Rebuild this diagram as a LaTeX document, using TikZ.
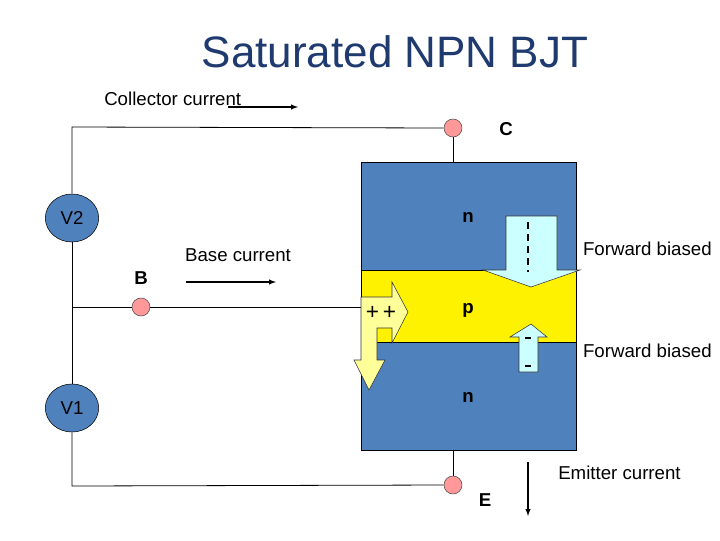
\documentclass[tikz,border=0pt]{standalone}
\usepackage{fontspec}
\setmainfont{Liberation Sans}
\usetikzlibrary{shapes.geometric}
\begin{document}
\begin{tikzpicture}[x=0.75pt,y=-0.75pt,
  wire/.style={draw=black,line width=0.6pt},
  term/.style={circle,draw=black!70,fill=red!40,minimum size=13.5pt,inner sep=0pt,line width=0.4pt},
  src/.style={ellipse,draw=black,fill=blockblue,minimum width=40pt,minimum height=36pt,inner sep=0pt,font=\fontsize{14}{16}\selectfont},
  lbl/.style={font=\fontsize{14}{16}\selectfont,inner sep=0pt},
  blbl/.style={font=\bfseries\fontsize{14}{16}\selectfont,inner sep=0pt},
  arr/.style={-latex,line width=0.8pt}]
\definecolor{blockblue}{HTML}{4F81BD}
\definecolor{titleblue}{HTML}{1F3A6E}
\definecolor{lcyan}{HTML}{CCFFFF}
\definecolor{lyel}{HTML}{FFFF99}
\useasboundingbox (0,0) rectangle (720,540);
% title
\node[font=\fontsize{33}{38}\selectfont,text=titleblue] (title) at (395,52) {Saturated NPN BJT};
% block
\fill[blockblue,draw=black] (361,162) rectangle (576,450);
\fill[yellow,draw=black] (361,270) rectangle (576,342);
\coordinate (btop) at (453,162);
\coordinate (bbot) at (453,450);
\coordinate (bleft) at (361,307);
% terminals and sources
\node[term] (C) at (453,128) {};
\node[term] (B) at (141,307) {};
\node[term] (E) at (453,485) {};
\node[src] (V2) at (72,218) {V2};
\node[src] (V1) at (72,408) {V1};
\coordinate (tl) at (72,127);
\coordinate (ml) at (72,307);
\coordinate (bl) at (72,486);
\draw[wire] (C.west) -- (tl) -- (V2.north);
\draw[wire] (V2.south) -- (ml) -- (B.west);
\draw[wire] (B.east) -- (bleft);
\draw[wire] (ml) -- (V1.north);
\draw[wire] (V1.south) -- (bl) -- (E.west);
\draw[wire] (C.south) -- (btop);
\draw[wire] (E.north) -- (bbot);
% arrows in block
\draw[fill=lcyan,draw=black!80,line width=0.4pt] (506,216) -- (557,216) -- (557,270) -- (580,270) -- (531,287) -- (483,270) -- (506,270) -- cycle;
\draw[dash pattern=on 5pt off 4pt,line width=1pt] (528,222) -- (528,272);
\draw[fill=lcyan,draw=black!80,line width=0.4pt] (531,324) -- (547,337) -- (538,337) -- (538,372) -- (519,372) -- (519,337) -- (510,337) -- cycle;
\draw[line width=1pt] (525,338) -- (531,338) (525,366) -- (531,366);
\draw[fill=lyel,draw=black!80,line width=0.4pt] (361,297) -- (392,297) -- (392,282) -- (408,312) -- (392,343) -- (392,328) -- (377,328) -- (377,360) -- (385,360) -- (369,390) -- (354,360) -- (361,360) -- cycle;
\node[font=\fontsize{17}{17}\selectfont,inner sep=0pt] (pp) at (381,313) {+\,+};
% labels
\node[blbl] (n1) at (468,217) {n};
\node[blbl] (p) at (468,310) {p};
\node[blbl] (n2) at (468,397) {n};
\node[blbl] (Cl) at (506,129) {C};
\node[blbl] (Bl) at (141,278) {B};
\node[blbl] (El) at (485,500) {E};
\node[lbl,anchor=east] (fb1) at (712,249) {Forward biased};
\node[lbl,anchor=east] (fb2) at (712,351) {Forward biased};
\node[lbl,anchor=west] (ec) at (558,473) {Emitter current};
\node[lbl] (bc) at (238,255) {Base current};
\node[lbl,anchor=west] (cc) at (104,99) {Collector current};
% current arrows
\coordinate (ca1) at (228,107); \coordinate (ca2) at (298,107);
\draw[arr] (ca1) -- (ca2);
\coordinate (ba1) at (186,282); \coordinate (ba2) at (276,282);
\draw[arr] (ba1) -- (ba2);
\coordinate (ea1) at (528,462); \coordinate (ea2) at (528,516);
\draw[arr] (ea1) -- (ea2);
\end{tikzpicture}
\end{document}
